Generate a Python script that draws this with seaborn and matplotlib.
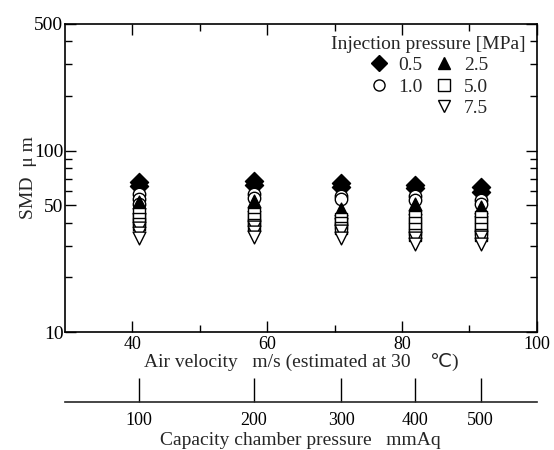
import numpy as np
import pandas as pd
import matplotlib
matplotlib.use('Agg')
import matplotlib.pyplot as plt
from matplotlib.lines import Line2D
from matplotlib.ticker import FixedLocator, NullFormatter, LogLocator
import seaborn as sns

# air velocity of each measuring column (m/s)
v1, v2, v3, v4, v5 = 41.0, 58.0, 71.0, 82.0, 91.7

# SMD readings (um) for each injection pressure
vel_05 = [v1, v1, v2, v2, v3, v3, v4, v4, v5, v5]
smd_05 = [67, 63.5, 68, 64.5, 66, 63, 65, 62, 63, 59.5]

vel_10 = [v1, v1, v1, v2, v2, v3, v3, v4, v4, v5, v5]
smd_10 = [58, 54, 51, 58, 55, 56, 54, 56.5, 53.5, 53.5, 51]

vel_25 = [v1, v1, v2, v2, v3, v3, v4, v4, v5, v5]
smd_25 = [52, 49, 53, 50, 48, 46, 51, 48.5, 49, 47]

vel_50 = [v1, v1, v1, v2, v2, v2, v3, v3, v3, v4, v4, v4, v4, v5, v5, v5, v5]
smd_50 = [45, 42, 39.5, 45, 42, 39, 42, 40, 37.5, 43, 40, 37, 34.5, 43, 40, 37, 34.5]

vel_75 = [v1, v1, v1, v2, v2, v2, v3, v3, v4, v4, v5, v5]
smd_75 = [37.5, 35, 33, 38, 35.5, 33.5, 36, 33, 33, 30.5, 33.5, 30.5]

pressure_labels = ['0.5', '1.0', '2.5', '5.0', '7.5']
chamber_ticks = [100, 200, 300, 400, 500]

sns.set_theme(style='ticks')
plt.rcParams['font.family'] = ['Liberation Serif', 'DejaVu Sans']

fig = plt.figure(figsize=(5.54, 4.5), dpi=100)
ax = fig.add_axes([0.117, 0.262, 0.852, 0.685])

series = [
    (vel_05, smd_05, 'D', 'black', 85),
    (vel_10, smd_10, 'o', 'white', 80),
    (vel_25, smd_25, '^', 'black', 85),
    (vel_50, smd_50, 's', 'white', 75),
    (vel_75, smd_75, 'v', 'white', 85),
]

handles = []
for (vel, smd, mk, fc, sz), lab in zip(series, pressure_labels):
    df = pd.DataFrame({'velocity': vel, 'smd': smd})
    sns.scatterplot(data=df, x='velocity', y='smd', ax=ax, marker=mk,
                    color=fc, edgecolor='black', linewidth=1.0, s=sz,
                    legend=False, zorder=3)
    handles.append(Line2D([], [], linestyle='none', marker=mk, markersize=8,
                          markerfacecolor=fc, markeredgecolor='black',
                          markeredgewidth=1.0, label=lab))

ax.set_yscale('log')
ax.set_ylim(10, 500)
ax.set_xlim(30, 100)
ax.set_yticks([10, 50, 100, 500])
ax.set_yticklabels(['10', '50', '100', '500'])
ax.yaxis.set_minor_locator(LogLocator(base=10, subs=np.arange(2, 10)))
ax.yaxis.set_minor_formatter(NullFormatter())
ax.set_xticks([40, 60, 80, 100])
ax.xaxis.set_minor_locator(FixedLocator([50, 70, 90]))

for s in ax.spines.values():
    s.set_linewidth(1.2)
    s.set_color('black')
ax.tick_params(which='both', direction='in', top=True, right=True,
               colors='black', width=1.0)
ax.tick_params(which='major', length=8)
ax.tick_params(which='minor', length=5)
ax.tick_params(axis='x', labelsize=13, pad=3)
ax.tick_params(axis='y', labelsize=14, pad=1)

ax.set_xlabel('Air velocity   m/s (estimated at 30    \u2103)', fontsize=14,
              labelpad=0)
ax.set_ylabel('SMD  \u03bc m', fontsize=14, labelpad=-2)


def to_pressure(v):
    return 100.0 * (np.asarray(v) / 41.0) ** 2


def to_velocity(p):
    return 41.0 * np.sqrt(np.maximum(np.asarray(p, dtype=float), 0) / 100.0)


sec = ax.secondary_xaxis(-0.227, functions=(to_pressure, to_velocity))
sec.set_xticks(chamber_ticks)
sec.tick_params(direction='in', length=17, width=1.0, labelsize=13, pad=7,
                colors='black')
sec.spines['bottom'].set_linewidth(1.2)
sec.set_xlabel('Capacity chamber pressure   mmAq', fontsize=14, labelpad=2)

blank = Line2D([], [], linestyle='none', marker=None, label=' ')
order = [handles[0], handles[1], blank, handles[2], handles[3], handles[4]]
leg = ax.legend(handles=order, title='Injection pressure [MPa]', ncol=2,
                loc='upper right', bbox_to_anchor=(1.0, 1.0), frameon=False,
                fontsize=14, title_fontsize=14, alignment='center',
                handletextpad=0.4, columnspacing=0.5, labelspacing=0.2,
                borderaxespad=0.2, handlelength=1.2)

plt.savefig('out.png', dpi=100)
plt.close()
